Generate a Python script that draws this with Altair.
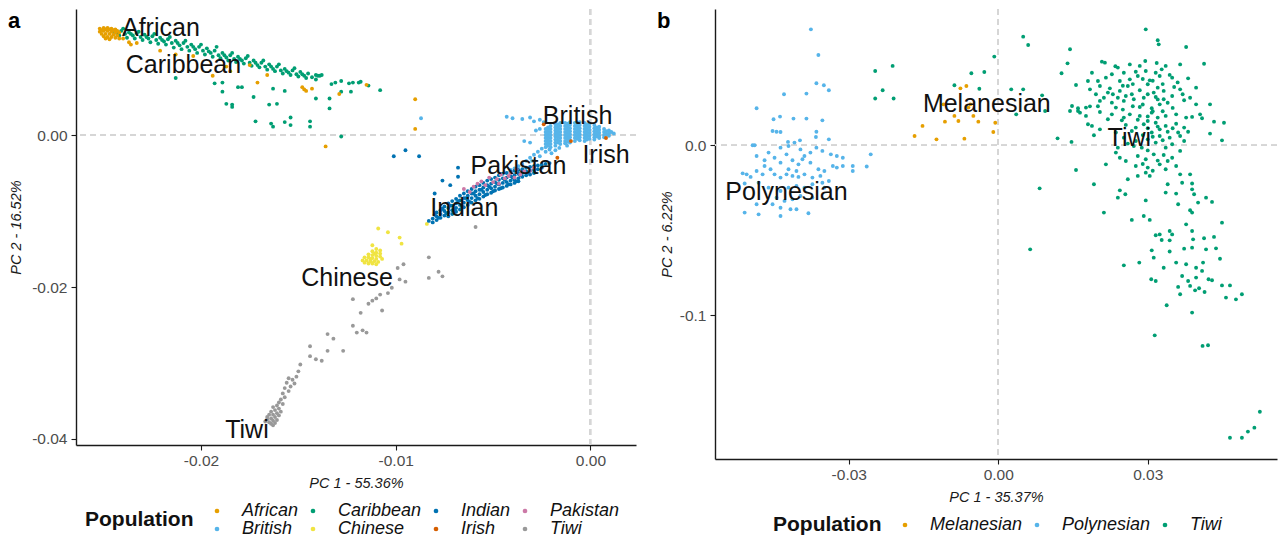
import altair as alt
import pandas as pd

FONT = "Liberation Sans"

# ---------------- Panel a data (PC1, PC2) ----------------
AFRICAN = [
    (-0.0252, 0.0140), (-0.0250, 0.0141), (-0.0248, 0.0141), (-0.0246, 0.0140), (-0.0244, 0.0139),
    (-0.0252, 0.0136), (-0.0250, 0.0137), (-0.0248, 0.0137), (-0.0246, 0.0136), (-0.0244, 0.0135),
    (-0.0242, 0.0135), (-0.0251, 0.0133), (-0.0249, 0.0133), (-0.0247, 0.0133), (-0.0245, 0.0132),
    (-0.0243, 0.0131), (-0.0250, 0.0130), (-0.0248, 0.0129), (-0.0246, 0.0129), (-0.0244, 0.0128),
    (-0.0242, 0.0127), (-0.0249, 0.0127), (-0.0247, 0.0126), (-0.0251, 0.0138), (-0.0249, 0.0139),
    (-0.0245, 0.0138), (-0.0247, 0.0139), (-0.0243, 0.0137), (-0.0240, 0.0127), (-0.0237, 0.0122),
    (-0.0236, 0.0119), (-0.0233, 0.0121), (-0.0221, 0.0111), (-0.0213, 0.0106), (-0.0204, 0.0104),
    (-0.0194, 0.0078), (-0.0185, 0.0084), (-0.0171, 0.0069), (-0.0166, 0.0079), (-0.0148, 0.0063),
    (-0.0147, 0.0060), (-0.0146, 0.0058), (-0.0143, 0.0061), (-0.0129, 0.0054), (-0.0115, 0.0066),
    (-0.0090, 0.0047), (-0.0090, 0.0008), (-0.0136, -0.0015), (-0.0187, 0.0090), (-0.0175, 0.0092),
]
CARIBBEAN = [
    (-0.0245, 0.0137), (-0.0243, 0.0134), (-0.0241, 0.0137), (-0.0239, 0.0133), (-0.0237, 0.0135),
    (-0.0235, 0.0131), (-0.0233, 0.0134), (-0.0231, 0.0129), (-0.0229, 0.0132), (-0.0227, 0.0127),
    (-0.0225, 0.0130), (-0.0223, 0.0125), (-0.0221, 0.0128), (-0.0219, 0.0123), (-0.0217, 0.0126),
    (-0.0215, 0.0121), (-0.0213, 0.0124), (-0.0211, 0.0118), (-0.0209, 0.0121), (-0.0207, 0.0116),
    (-0.0205, 0.0119), (-0.0203, 0.0113), (-0.0201, 0.0116), (-0.0199, 0.0111), (-0.0197, 0.0114),
    (-0.0195, 0.0108), (-0.0193, 0.0111), (-0.0191, 0.0105), (-0.0189, 0.0108), (-0.0187, 0.0102),
    (-0.0185, 0.0105), (-0.0183, 0.0100), (-0.0181, 0.0103), (-0.0179, 0.0098), (-0.0177, 0.0101),
    (-0.0175, 0.0095), (-0.0173, 0.0098), (-0.0171, 0.0092), (-0.0169, 0.0095), (-0.0167, 0.0090),
    (-0.0165, 0.0093), (-0.0163, 0.0087), (-0.0161, 0.0090), (-0.0159, 0.0085), (-0.0157, 0.0087),
    (-0.0155, 0.0082), (-0.0153, 0.0085), (-0.0151, 0.0080), (-0.0149, 0.0083), (-0.0147, 0.0078),
    (-0.0145, 0.0081), (-0.0143, 0.0076), (-0.0141, 0.0079), (-0.0139, 0.0078),
    (-0.0242, 0.0131), (-0.0238, 0.0128), (-0.0234, 0.0127), (-0.0230, 0.0125), (-0.0226, 0.0122),
    (-0.0222, 0.0120), (-0.0218, 0.0119), (-0.0214, 0.0115), (-0.0210, 0.0113), (-0.0206, 0.0111),
    (-0.0202, 0.0108), (-0.0198, 0.0106), (-0.0194, 0.0103), (-0.0190, 0.0101), (-0.0186, 0.0098),
    (-0.0182, 0.0096), (-0.0178, 0.0094), (-0.0174, 0.0091), (-0.0170, 0.0089), (-0.0166, 0.0086),
    (-0.0162, 0.0084), (-0.0158, 0.0081), (-0.0154, 0.0079), (-0.0150, 0.0077), (-0.0146, 0.0075),
    (-0.0240, 0.0140), (-0.0232, 0.0136), (-0.0224, 0.0133), (-0.0216, 0.0129), (-0.0208, 0.0124),
    (-0.0200, 0.0119), (-0.0192, 0.0116), (-0.0184, 0.0108), (-0.0176, 0.0104), (-0.0168, 0.0098),
    (-0.0160, 0.0093), (-0.0152, 0.0088),
    (-0.0244, 0.0135), (-0.0236, 0.0133), (-0.0228, 0.0129), (-0.0220, 0.0125), (-0.0212, 0.0121),
    (-0.0204, 0.0116), (-0.0196, 0.0110), (-0.0188, 0.0105), (-0.0180, 0.0100), (-0.0172, 0.0095),
    (-0.0164, 0.0090), (-0.0156, 0.0084), (-0.0148, 0.0080),
    (-0.0213, 0.0075), (-0.0193, 0.0068), (-0.0189, 0.0069), (-0.0189, 0.0057), (-0.0181, 0.0063),
    (-0.0179, 0.0063), (-0.0173, 0.0050), (-0.0187, 0.0041), (-0.0184, 0.0040), (-0.0184, 0.0037),
    (-0.0172, 0.0018), (-0.0165, 0.0040), (-0.0161, 0.0041), (-0.0163, 0.0061), (-0.0157, 0.0058),
    (-0.0164, 0.0015), (-0.0163, 0.0011), (-0.0157, 0.0017), (-0.0154, 0.0023), (-0.0154, 0.0013),
    (-0.0144, 0.0018), (-0.0144, 0.0011), (-0.0141, 0.0048), (-0.0134, 0.0048), (-0.0134, 0.0035),
    (-0.0131, 0.0069), (-0.0128, 0.0071), (-0.0128, 0.0057), (-0.0124, 0.0068), (-0.0122, 0.0069),
    (-0.0119, 0.0069), (-0.0118, 0.0070), (-0.0114, 0.0065), (-0.0123, 0.0057), (-0.0133, 0.0067),
    (-0.0108, 0.0059), (-0.0128, -0.0002), (-0.0140, 0.0078), (-0.0138, 0.0079), (-0.0141, 0.0073),
]
BRITISH = [
    (-0.0023, 0.0008), (-0.0023, 0.0004), (-0.0023, 0.0000), (-0.0023, -0.0004), (-0.0023, -0.0008),
    (-0.0023, -0.0012), (-0.0023, -0.0016), (-0.00205, 0.0012), (-0.00205, 0.0008), (-0.00205, 0.0004),
    (-0.00205, 0.0000), (-0.00205, -0.0004), (-0.00205, -0.0008), (-0.00205, -0.0012), (-0.00205, -0.0016),
    (-0.0018, 0.0014), (-0.0018, 0.0010), (-0.0018, 0.0006), (-0.0018, 0.0002), (-0.0018, -0.0002),
    (-0.0018, -0.0006), (-0.0018, -0.0010), (-0.0018, -0.0014), (-0.00155, 0.0016), (-0.00155, 0.0012),
    (-0.00155, 0.0008), (-0.00155, 0.0004), (-0.00155, 0.0000), (-0.00155, -0.0004), (-0.00155, -0.0008),
    (-0.00155, -0.0012), (-0.0013, 0.0016), (-0.0013, 0.0012), (-0.0013, 0.0008), (-0.0013, 0.0004),
    (-0.0013, 0.0000), (-0.0013, -0.0004), (-0.0013, -0.0008), (-0.0013, -0.0011), (-0.00105, 0.0017),
    (-0.00105, 0.0013), (-0.00105, 0.0009), (-0.00105, 0.0005), (-0.00105, 0.0001), (-0.00105, -0.0003),
    (-0.00105, -0.0007), (-0.00105, -0.0010), (-0.0008, 0.0016), (-0.0008, 0.0012), (-0.0008, 0.0008),
    (-0.0008, 0.0004), (-0.0008, 0.0000), (-0.0008, -0.0004), (-0.0008, -0.0008), (-0.00055, 0.0017),
    (-0.00055, 0.0013), (-0.00055, 0.0009), (-0.00055, 0.0005), (-0.00055, 0.0001), (-0.00055, -0.0003),
    (-0.00055, -0.0007), (-0.0003, 0.0016), (-0.0003, 0.0012), (-0.0003, 0.0008), (-0.0003, 0.0004),
    (-0.0003, 0.0000), (-0.0003, -0.0004), (-0.0003, -0.0008), (-0.00005, 0.0015), (-0.00005, 0.0011),
    (-0.00005, 0.0007), (-0.00005, 0.0003), (-0.00005, -0.0001), (-0.00005, -0.0005), (0.0002, 0.0013),
    (0.0002, 0.0009), (0.0002, 0.0005), (0.0002, 0.0001), (0.0002, -0.0003), (0.0002, -0.0006),
    (0.00045, 0.0011), (0.00045, 0.0007), (0.00045, 0.0003), (0.00045, -0.0001), (0.00045, -0.0004),
    (0.0007, 0.0008), (0.0007, 0.0004), (0.0007, 0.0000), (0.0007, -0.0003), (0.00095, 0.0006),
    (0.00095, 0.0002), (0.00095, -0.0001), (0.0012, 0.0002),
    (-0.00218, 0.0010), (-0.00218, 0.0006), (-0.00218, 0.0002), (-0.00218, -0.0002), (-0.00218, -0.0006),
    (-0.00218, -0.0010), (-0.00218, -0.0014), (-0.00168, 0.0014), (-0.00168, 0.0010), (-0.00168, 0.0006),
    (-0.00168, 0.0002), (-0.00168, -0.0002), (-0.00168, -0.0006), (-0.00168, -0.0010), (-0.00118, 0.0015),
    (-0.00118, 0.0011), (-0.00118, 0.0007), (-0.00118, 0.0003), (-0.00118, -0.0001), (-0.00118, -0.0005),
    (-0.00118, -0.0009), (-0.00068, 0.0015), (-0.00068, 0.0011), (-0.00068, 0.0007), (-0.00068, 0.0003),
    (-0.00068, -0.0001), (-0.00068, -0.0005), (-0.00018, 0.0014), (-0.00018, 0.0010), (-0.00018, 0.0006),
    (-0.00018, 0.0002), (-0.00018, -0.0002), (-0.00018, -0.0006), (0.00032, 0.0010), (0.00032, 0.0006),
    (0.00032, 0.0002), (0.00032, -0.0002), (0.00082, 0.0005), (0.00082, 0.0001), (0.00107, 0.0004),
    (-0.0025, -0.0018), (-0.0027, -0.0022), (-0.0029, -0.0026), (-0.0031, -0.0030), (-0.0033, -0.0034),
    (-0.0035, -0.0038), (-0.0037, -0.0041), (-0.0039, -0.0044), (-0.0041, -0.0046), (-0.0023, -0.0022),
    (-0.0026, -0.0028), (-0.0030, -0.0034), (-0.0020, -0.0024), (-0.0018, -0.0020), (-0.0021, -0.0019),
    (-0.0043, 0.0024), (-0.0040, 0.0022), (-0.0035, 0.0021), (-0.0031, 0.0023), (-0.0029, 0.0018),
    (-0.0028, 0.0006), (-0.0026, 0.0008), (-0.0034, -0.0008), (-0.0031, -0.0010), (-0.0087, 0.0022),
    (-0.0026, 0.0020), (-0.0024, 0.0017), (-0.0016, -0.0017), (-0.0012, -0.0014),
]
INDIAN = [
    (-0.0083, -0.0113), (-0.0081, -0.0110), (-0.0081, -0.0115), (-0.0079, -0.0102), (-0.0079, -0.0107),
    (-0.0079, -0.0112), (-0.0077, -0.0099), (-0.0077, -0.0104), (-0.0077, -0.0109), (-0.0075, -0.0094),
    (-0.0075, -0.0100), (-0.0075, -0.0106), (-0.0073, -0.0090), (-0.0073, -0.0096), (-0.0073, -0.0102),
    (-0.0073, -0.0107), (-0.0071, -0.0087), (-0.0071, -0.0093), (-0.0071, -0.0099), (-0.0071, -0.0104),
    (-0.0069, -0.0084), (-0.0069, -0.0090), (-0.0069, -0.0096), (-0.0069, -0.0101), (-0.0067, -0.0080),
    (-0.0067, -0.0086), (-0.0067, -0.0092), (-0.0067, -0.0098), (-0.0065, -0.0077), (-0.0065, -0.0083),
    (-0.0065, -0.0089), (-0.0065, -0.0095), (-0.0063, -0.0074), (-0.0063, -0.0080), (-0.0063, -0.0086),
    (-0.0063, -0.0092), (-0.0061, -0.0071), (-0.0061, -0.0077), (-0.0061, -0.0083), (-0.0061, -0.0089),
    (-0.0059, -0.0068), (-0.0059, -0.0074), (-0.0059, -0.0080), (-0.0059, -0.0086), (-0.0057, -0.0066),
    (-0.0057, -0.0072), (-0.0057, -0.0078), (-0.0057, -0.0084), (-0.0055, -0.0063), (-0.0055, -0.0069),
    (-0.0055, -0.0075), (-0.0055, -0.0081), (-0.0053, -0.0060), (-0.0053, -0.0066), (-0.0053, -0.0072),
    (-0.0053, -0.0078), (-0.0051, -0.0058), (-0.0051, -0.0064), (-0.0051, -0.0070), (-0.0051, -0.0076),
    (-0.0049, -0.0056), (-0.0049, -0.0062), (-0.0049, -0.0068), (-0.0049, -0.0073), (-0.0047, -0.0053),
    (-0.0047, -0.0059), (-0.0047, -0.0065), (-0.0047, -0.0071), (-0.0045, -0.0051), (-0.0045, -0.0057),
    (-0.0045, -0.0063), (-0.0045, -0.0069), (-0.0043, -0.0050), (-0.0043, -0.0056), (-0.0043, -0.0062),
    (-0.0043, -0.0067), (-0.0041, -0.0048), (-0.0041, -0.0054), (-0.0041, -0.0060), (-0.0041, -0.0065),
    (-0.0039, -0.0047), (-0.0039, -0.0053), (-0.0039, -0.0059), (-0.0039, -0.0063), (-0.0037, -0.0046),
    (-0.0037, -0.0051), (-0.0037, -0.0057), (-0.0037, -0.0061), (-0.0035, -0.0045), (-0.0035, -0.0050),
    (-0.0035, -0.0055), (-0.0033, -0.0043), (-0.0033, -0.0048), (-0.0033, -0.0053), (-0.0031, -0.0042),
    (-0.0031, -0.0047), (-0.0031, -0.0052), (-0.0029, -0.0041), (-0.0029, -0.0046), (-0.0029, -0.0050),
    (-0.0027, -0.0040), (-0.0027, -0.0045), (-0.0025, -0.0039), (-0.0025, -0.0043), (-0.0023, -0.0038),
    (-0.0021, -0.0037),
    (-0.0080, -0.0105), (-0.0076, -0.0097), (-0.0072, -0.0093), (-0.0068, -0.0087), (-0.0064, -0.0083),
    (-0.0060, -0.0077), (-0.0056, -0.0072), (-0.0052, -0.0068), (-0.0048, -0.0064), (-0.0044, -0.0059),
    (-0.0040, -0.0056), (-0.0036, -0.0053), (-0.0032, -0.0049), (-0.0078, -0.0109), (-0.0074, -0.0103),
    (-0.0070, -0.0098), (-0.0066, -0.0094), (-0.0062, -0.0088), (-0.0058, -0.0083), (-0.0054, -0.0079),
    (-0.0050, -0.0074), (-0.0046, -0.0070), (-0.0042, -0.0065), (-0.0038, -0.0061),
    (-0.0101, -0.0028), (-0.0095, -0.0020), (-0.0088, -0.0028), (-0.0068, -0.0043), (-0.0068, -0.0055),
    (-0.0076, -0.0060), (-0.0080, -0.0077), (-0.0072, -0.0066),
]
PAKISTAN = [
    (-0.0065, -0.0071), (-0.0060, -0.0068), (-0.0056, -0.0061), (-0.0052, -0.0056), (-0.0050, -0.0062),
    (-0.0046, -0.0052), (-0.0044, -0.0057), (-0.0041, -0.0050), (-0.0038, -0.0045), (-0.0036, -0.0052),
    (-0.0034, -0.0048), (-0.0054, -0.0066), (-0.0048, -0.0058), (-0.0042, -0.0054), (-0.0058, -0.0064),
    (-0.0047, -0.0064), (-0.0039, -0.0056), (-0.0062, -0.0075), (-0.0031, -0.0047), (-0.0029, -0.0043),
]
CHINESE = [
    (-0.0110, -0.0150), (-0.0108, -0.0152), (-0.0112, -0.0153), (-0.0110, -0.0155), (-0.0108, -0.0156),
    (-0.0114, -0.0157), (-0.0112, -0.0158), (-0.0110, -0.0159), (-0.0108, -0.0160), (-0.0116, -0.0161),
    (-0.0114, -0.0161), (-0.0112, -0.0162), (-0.0110, -0.0163), (-0.0107, -0.0163), (-0.0117, -0.0165),
    (-0.0115, -0.0165), (-0.0113, -0.0166), (-0.0111, -0.0166), (-0.0109, -0.0167), (-0.0116, -0.0168),
    (-0.0114, -0.0169), (-0.0112, -0.0169), (-0.0110, -0.0170), (-0.0113, -0.0163), (-0.0111, -0.0156),
    (-0.0109, -0.0123), (-0.0104, -0.0128), (-0.0098, -0.0135), (-0.0097, -0.0143), (-0.0112, -0.0145),
    (-0.0084, -0.0117),
]
IRISH = [(-0.0024, 0.0014), (-0.0010, -0.0008), (-0.0017, -0.0030), (0.0008, -0.0004)]
TIWI_A = [
    (-0.0059, -0.0121), (-0.0083, -0.0161), (-0.0083, -0.0188), (-0.0078, -0.0180), (-0.0076, -0.0186),
    (-0.0096, -0.0170), (-0.0099, -0.0175), (-0.0095, -0.0193), (-0.0098, -0.0190), (-0.0102, -0.0201),
    (-0.0104, -0.0208), (-0.0108, -0.0210), (-0.0110, -0.0215), (-0.0112, -0.0218), (-0.0114, -0.0222),
    (-0.0122, -0.0216), (-0.0107, -0.0231), (-0.0118, -0.0234), (-0.0122, -0.0251), (-0.0120, -0.0260),
    (-0.0115, -0.0260), (-0.0117, -0.0257), (-0.0135, -0.0262), (-0.0132, -0.0268), (-0.0127, -0.0284),
    (-0.0135, -0.0284), (-0.0144, -0.0278), (-0.0144, -0.0291), (-0.0141, -0.0295), (-0.0138, -0.0297),
    (-0.0149, -0.0302), (-0.0150, -0.0311),
    (-0.0151, -0.0318), (-0.0153, -0.0322), (-0.0155, -0.0320), (-0.0152, -0.0327), (-0.0156, -0.0326),
    (-0.0154, -0.0331), (-0.0157, -0.0333), (-0.0155, -0.0337), (-0.0158, -0.0340), (-0.0157, -0.0345),
    (-0.0159, -0.0348), (-0.0160, -0.0352), (-0.0158, -0.0354), (-0.0161, -0.0356), (-0.0163, -0.0358),
    (-0.0160, -0.0360), (-0.0162, -0.0362), (-0.0164, -0.0364), (-0.0161, -0.0366), (-0.0163, -0.0368),
    (-0.0165, -0.0368), (-0.0162, -0.0371), (-0.0164, -0.0373), (-0.0166, -0.0374), (-0.0163, -0.0376),
    (-0.0165, -0.0378), (-0.0161, -0.0375), (-0.0164, -0.0380), (-0.0162, -0.0379), (-0.0166, -0.0371),
    (-0.0160, -0.0369), (-0.0159, -0.0364), (-0.0167, -0.0377), (-0.0163, -0.0382),
]
LABELS_A = ["African", "Caribbean", "British", "Irish", "Pakistan", "Indian", "Chinese", "Tiwi"]
LABEL_X_A = [-0.02206, -0.02090, -0.00066, 0.00080, -0.00370, -0.00648, -0.01250, -0.01764]
LABEL_Y_A = [0.01303, 0.00816, 0.00141, -0.00364, -0.00517, -0.01066, -0.01987, -0.03983]

# ---------------- Panel b data ----------------
MELANESIAN = [
    (-0.0168, 0.0055), (-0.0152, 0.0114), (-0.0124, 0.0035), (-0.0107, 0.0139), (-0.0088, 0.0173),
    (-0.0080, 0.0143), (-0.0076, 0.0335), (-0.0064, 0.0349), (-0.0068, 0.0039), (-0.0060, 0.0222),
    (-0.0050, 0.0173), (-0.0040, 0.0139), (-0.0010, 0.0078), (-0.0006, 0.0133), (-0.0110, 0.0241),
    (-0.0056, 0.0241),
]
POLYNESIAN = [
    (-0.0376, 0.0682), (-0.0361, 0.0531), (-0.0365, 0.0365), (-0.0350, 0.0353), (-0.0340, 0.0324),
    (-0.0430, 0.0300), (-0.0385, 0.0304), (-0.0485, 0.0218), (-0.0438, 0.0169), (-0.0451, 0.0153),
    (-0.0411, 0.0157), (-0.0385, 0.0157), (-0.0353, 0.0147), (-0.0453, 0.0084), (-0.0445, 0.0080),
    (-0.0437, 0.0078), (-0.0365, 0.0080), (-0.0366, 0.0049), (-0.0340, 0.0035), (-0.0422, 0.0020),
    (-0.0409, 0.0016), (-0.0398, 0.0029), (-0.0493, 0.0000), (-0.0489, 0.0000), (-0.0421, -0.0004),
    (-0.0437, -0.0014), (-0.0365, -0.0014), (-0.0353, -0.0033), (-0.0336, -0.0053), (-0.0324, -0.0063),
    (-0.0312, -0.0073), (-0.0256, -0.0053), (-0.0292, -0.0122), (-0.0264, -0.0125), (-0.0292, -0.0151),
    (-0.0461, -0.0043), (-0.0389, -0.0063), (-0.0393, -0.0082), (-0.0485, -0.0063), (-0.0413, -0.0088),
    (-0.0437, -0.0102), (-0.0401, -0.0112), (-0.0377, -0.0102), (-0.0469, -0.0122), (-0.0457, -0.0141),
    (-0.0421, -0.0141), (-0.0361, -0.0141), (-0.0349, -0.0151), (-0.0332, -0.0122), (-0.0513, -0.0165),
    (-0.0505, -0.0171), (-0.0497, -0.0186), (-0.0485, -0.0151), (-0.0473, -0.0171), (-0.0449, -0.0171),
    (-0.0437, -0.0190), (-0.0425, -0.0171), (-0.0413, -0.0180), (-0.0401, -0.0186), (-0.0389, -0.0171),
    (-0.0373, -0.0190), (-0.0357, -0.0180), (-0.0340, -0.0210), (-0.0509, -0.0225), (-0.0481, -0.0220),
    (-0.0461, -0.0249), (-0.0437, -0.0269), (-0.0421, -0.0249), (-0.0405, -0.0239), (-0.0389, -0.0249),
    (-0.0373, -0.0229), (-0.0353, -0.0220), (-0.0445, -0.0308), (-0.0429, -0.0327), (-0.0413, -0.0318),
    (-0.0397, -0.0298), (-0.0373, -0.0308), (-0.0485, -0.0347), (-0.0453, -0.0347), (-0.0437, -0.0367),
    (-0.0417, -0.0376), (-0.0405, -0.0376), (-0.0509, -0.0396), (-0.0481, -0.0406), (-0.0437, -0.0416),
    (-0.0381, -0.0400), (-0.0349, -0.0249), (-0.0324, -0.0131), (-0.0312, -0.0122), (-0.0377, -0.0043),
    (-0.0397, -0.0024), (-0.0469, -0.0088), (-0.0449, -0.0073), (-0.0425, -0.0053), (-0.0405, -0.0151),
]
TIWI_B = [
    (-0.0247, 0.0437), (-0.0212, 0.0467), (-0.0232, 0.0324), (-0.0247, 0.0275), (-0.0210, 0.0275),
    (-0.0088, 0.0353), (-0.0054, 0.0424), (-0.0028, 0.0431), (-0.0038, 0.0333), (-0.0008, 0.0522),
    (0.0026, 0.0329), (0.0050, 0.0329), (0.0050, 0.0639), (0.0060, 0.0590), (0.0036, 0.0182),
    (0.0088, 0.0294), (0.0094, 0.0202), (0.0119, 0.0041), (0.0147, 0.0020), (0.0127, 0.0424),
    (0.0139, 0.0482), (0.0144, 0.0565), (0.0156, 0.0355), (0.0156, -0.0145), (0.0083, -0.0253),
    (0.0064, -0.0612), (0.0212, -0.0396), (0.0192, -0.0229), (0.0160, 0.0202),
    (0.0296, 0.0682), (0.0320, 0.0618), (0.0322, 0.0594), (0.0377, 0.0578), (0.0413, 0.0480),
    (0.0365, 0.0476),
    (0.0208, 0.0492), (0.0214, 0.0486), (0.0235, 0.0465), (0.0240, 0.0457), (0.0264, 0.0476),
    (0.0284, 0.0467), (0.0295, 0.0496), (0.0318, 0.0484), (0.0336, 0.0467),
    (0.0188, 0.0427), (0.0228, 0.0418), (0.0252, 0.0427), (0.0276, 0.0433), (0.0296, 0.0437),
    (0.0316, 0.0427), (0.0328, 0.0447), (0.0349, 0.0398), (0.0200, 0.0378), (0.0216, 0.0398),
    (0.0244, 0.0378), (0.0264, 0.0388), (0.0280, 0.0408), (0.0304, 0.0382), (0.0324, 0.0408),
    (0.0344, 0.0414), (0.0381, 0.0394), (0.0180, 0.0378),
    (0.0184, 0.0329), (0.0204, 0.0349), (0.0224, 0.0335), (0.0244, 0.0320), (0.0260, 0.0349),
    (0.0284, 0.0324), (0.0300, 0.0359), (0.0320, 0.0339), (0.0332, 0.0320), (0.0353, 0.0343),
    (0.0365, 0.0329), (0.0397, 0.0339), (0.0312, 0.0310), (0.0268, 0.0300), (0.0212, 0.0280),
    (0.0196, 0.0300),
    (0.0204, 0.0261), (0.0228, 0.0251), (0.0252, 0.0261), (0.0272, 0.0271), (0.0292, 0.0280),
    (0.0316, 0.0284), (0.0332, 0.0271), (0.0349, 0.0290), (0.0373, 0.0265), (0.0385, 0.0280),
    (0.0397, 0.0241), (0.0425, 0.0241), (0.0148, 0.0231), (0.0160, 0.0218), (0.0176, 0.0222),
    (0.0184, 0.0229), (0.0236, 0.0222), (0.0284, 0.0225), (0.0308, 0.0218), (0.0324, 0.0241),
    (0.0144, 0.0202), (0.0164, 0.0192), (0.0176, 0.0173), (0.0204, 0.0196), (0.0228, 0.0182),
    (0.0252, 0.0163), (0.0264, 0.0182), (0.0284, 0.0173), (0.0308, 0.0192), (0.0320, 0.0163),
    (0.0336, 0.0173), (0.0357, 0.0182), (0.0377, 0.0163), (0.0389, 0.0167), (0.0405, 0.0182),
    (0.0409, 0.0159), (0.0220, 0.0153), (0.0248, 0.0147), (0.0300, 0.0143),
    (0.0180, 0.0124), (0.0188, 0.0114), (0.0204, 0.0094), (0.0256, 0.0120), (0.0276, 0.0104),
    (0.0292, 0.0124), (0.0316, 0.0133), (0.0336, 0.0114), (0.0357, 0.0127), (0.0373, 0.0104),
    (0.0381, 0.0080), (0.0361, 0.0075), (0.0324, 0.0094), (0.0308, 0.0075), (0.0268, 0.0084),
    (0.0236, 0.0075), (0.0433, 0.0139), (0.0453, 0.0133), (0.0425, 0.0069), (0.0192, 0.0059),
    (0.0252, 0.0045), (0.0276, 0.0025), (0.0300, 0.0035), (0.0324, 0.0055), (0.0344, 0.0045),
    (0.0365, 0.0055), (0.0373, 0.0025), (0.0349, 0.0006), (0.0316, 0.0016), (0.0288, -0.0014),
    (0.0272, -0.0004), (0.0240, -0.0014), (0.0236, -0.0043), (0.0336, -0.0014), (0.0365, -0.0033),
    (0.0449, 0.0029),
    (0.0244, -0.0073), (0.0256, -0.0092), (0.0280, -0.0063), (0.0296, -0.0082), (0.0312, -0.0053),
    (0.0332, -0.0057), (0.0349, -0.0073), (0.0276, -0.0122), (0.0300, -0.0131), (0.0324, -0.0112),
    (0.0340, -0.0092), (0.0357, -0.0122), (0.0216, -0.0112), (0.0385, -0.0171), (0.0336, -0.0141),
    (0.0296, -0.0161), (0.0280, -0.0180), (0.0260, -0.0200), (0.0304, -0.0180), (0.0365, -0.0171),
    (0.0369, -0.0220), (0.0389, -0.0225),
    (0.0244, -0.0265), (0.0255, -0.0288), (0.0240, -0.0308), (0.0268, -0.0439), (0.0296, -0.0324),
    (0.0292, -0.0416), (0.0304, -0.0439), (0.0340, -0.0229), (0.0336, -0.0278), (0.0357, -0.0284),
    (0.0361, -0.0347), (0.0389, -0.0259), (0.0393, -0.0288), (0.0401, -0.0337), (0.0417, -0.0308),
    (0.0429, -0.0333), (0.0449, -0.0455), (0.0385, -0.0382), (0.0389, -0.0396), (0.0377, -0.0465),
    (0.0316, -0.0529), (0.0324, -0.0524), (0.0344, -0.0504), (0.0349, -0.0524), (0.0328, -0.0557),
    (0.0344, -0.0559), (0.0308, -0.0618), (0.0344, -0.0625), (0.0389, -0.0504), (0.0391, -0.0553),
    (0.0413, -0.0547), (0.0433, -0.0539), (0.0373, -0.0608), (0.0389, -0.0602), (0.0417, -0.0612),
    (0.0437, -0.0606), (0.0445, -0.0667), (0.0252, -0.0706), (0.0283, -0.0690), (0.0312, -0.0661),
    (0.0332, -0.0720), (0.0357, -0.0690), (0.0377, -0.0700), (0.0397, -0.0720), (0.0411, -0.0690),
    (0.0307, -0.0788), (0.0316, -0.0798), (0.0369, -0.0769), (0.0381, -0.0798), (0.0397, -0.0778),
    (0.0422, -0.0788), (0.0429, -0.0794), (0.0361, -0.0833), (0.0385, -0.0827), (0.0395, -0.0853),
    (0.0403, -0.0841), (0.0414, -0.0863), (0.0449, -0.0824), (0.0465, -0.0824), (0.0457, -0.0896),
    (0.0477, -0.0906), (0.0489, -0.0876), (0.0365, -0.0876), (0.0409, -0.0739), (0.0338, -0.0941),
    (0.0389, -0.0984), (0.0314, -0.1118), (0.0410, -0.1180), (0.0421, -0.1176),
    (0.0465, -0.1720), (0.0489, -0.1720), (0.0501, -0.1684), (0.0514, -0.1661), (0.0525, -0.1567),
    (0.0230, 0.0300), (0.0256, 0.0290), (0.0300, 0.0300), (0.0320, 0.0270), (0.0340, 0.0250),
    (0.0290, 0.0240), (0.0270, 0.0230), (0.0250, 0.0210), (0.0310, 0.0200), (0.0330, 0.0200),
    (0.0350, 0.0220), (0.0300, 0.0170), (0.0280, 0.0150), (0.0320, 0.0110), (0.0300, 0.0100),
    (0.0290, 0.0060), (0.0340, 0.0080), (0.0350, 0.0100), (0.0310, 0.0050), (0.0330, 0.0030),
    (0.0260, 0.0010), (0.0300, -0.0030), (0.0320, -0.0090), (0.0290, -0.0110), (0.0310, -0.0150),
    (0.0330, 0.0360), (0.0310, 0.0380), (0.0290, 0.0390), (0.0270, 0.0360), (0.0250, 0.0350),
    (0.0360, 0.0370), (0.0370, 0.0300), (0.0240, 0.0280), (0.0220, 0.0310), (0.0200, 0.0230),
]
LABELS_B = ["Polynesian", "Melanesian", "Tiwi"]
LABEL_X_B = [-0.0425, -0.0023, 0.0263]
LABEL_Y_B = [-0.0324, 0.0196, -0.0004]

POPS_A = ["African", "Caribbean", "Indian", "Pakistan", "British", "Chinese", "Irish", "Tiwi"]
COLORS_A = ["#E69F00", "#009E73", "#0072B2", "#CC79A7", "#56B4E9", "#F0E442", "#D55E00", "#999999"]
POPS_B = ["Melanesian", "Polynesian", "Tiwi"]
COLORS_B = ["#E69F00", "#56B4E9", "#009E73"]


def points_frame(groups):
    rows = []
    for pop, pts in groups:
        for x, y in pts:
            rows.append({"pc1": x, "pc2": y, "pop": pop})
    return pd.DataFrame(rows)


df_a = points_frame([
    ("Caribbean", CARIBBEAN), ("African", AFRICAN), ("Tiwi", TIWI_A), ("Chinese", CHINESE),
    ("British", BRITISH), ("Indian", INDIAN), ("Pakistan", PAKISTAN), ("Irish", IRISH),
])
df_b = points_frame([("Polynesian", POLYNESIAN), ("Melanesian", MELANESIAN), ("Tiwi", TIWI_B)])
lab_a = pd.DataFrame({"pc1": LABEL_X_A, "pc2": LABEL_Y_A, "label": LABELS_A})
lab_b = pd.DataFrame({"pc1": LABEL_X_B, "pc2": LABEL_Y_B, "label": LABELS_B})

MINUS_FIX = "replace(format(datum.value, '{f}'), '\u2212', '-')"

AXIS_STYLE = dict(
    grid=False, domainColor="#1a1a1a", domainWidth=1.4, tickColor="#1a1a1a", tickWidth=1.1, tickSize=5,
    labelFont=FONT, labelFontSize=15.5, labelColor="#4d4d4d",
    titleFont=FONT, titleFontSize=14.5, titleFontStyle="italic", titleFontWeight="normal", titleColor="#1a1a1a",
)


def panel(df, labels, pops, colors, xdom, ydom, xvals, yvals, xfmt, yfmt, w, h,
          xtitle, ytitle, ytitle_x, letter, letter_x, legend_x, legend_y, columns):
    xscale = alt.Scale(domain=xdom, nice=False, zero=False)
    yscale = alt.Scale(domain=ydom, nice=False, zero=False)
    xaxis = alt.Axis(values=xvals, labelExpr=MINUS_FIX.format(f=xfmt), title=xtitle,
                     labelPadding=3, titlePadding=8, **AXIS_STYLE)
    yaxis = alt.Axis(values=yvals, labelExpr=MINUS_FIX.format(f=yfmt), title=ytitle,
                     labelPadding=4, titleX=ytitle_x, **AXIS_STYLE)
    vrule = alt.Chart(df).mark_rule(color="#D6D6D6", strokeDash=[6, 4], strokeWidth=1.2).encode(
        x=alt.datum(0, scale=xscale, axis=xaxis)
    )
    hrule = alt.Chart(df).mark_rule(color="#D6D6D6", strokeDash=[6, 4], strokeWidth=1.2).encode(
        y=alt.datum(0, scale=yscale, axis=yaxis)
    )
    pts = alt.Chart(df).mark_circle(size=15, opacity=1).encode(
        x=alt.X("pc1:Q", scale=xscale, axis=xaxis, title=xtitle),
        y=alt.Y("pc2:Q", scale=yscale, axis=yaxis, title=ytitle),
        color=alt.Color(
            "pop:N",
            scale=alt.Scale(domain=pops, range=colors),
            title="Population",
            legend=alt.Legend(
                orient="none", legendX=legend_x, legendY=legend_y, direction="horizontal",
                columns=columns, titleOrient="left", titleAnchor="middle", titleBaseline="middle",
                titlePadding=14, columnPadding=5, rowPadding=0, labelOffset=16,
                symbolType="circle", symbolSize=22, symbolStrokeWidth=0, padding=0,
                labelFont=FONT, labelFontSize=18, labelFontStyle="italic", labelColor="#111111",
                titleFont=FONT, titleFontSize=21, titleFontWeight="bold", titleColor="#111111",
            ),
        ),
    )
    txt = alt.Chart(labels).mark_text(
        font=FONT, fontSize=25, color="#111111", align="center", baseline="alphabetic"
    ).encode(
        x=alt.X("pc1:Q", scale=xscale, title=xtitle),
        y=alt.Y("pc2:Q", scale=yscale, title=ytitle),
        text="label:N",
    )
    tag = alt.Chart(pd.DataFrame({"t": [letter]})).mark_text(
        font=FONT, fontSize=22, fontWeight="bold", color="#000000", align="left", baseline="top"
    ).encode(x=alt.value(letter_x), y=alt.value(2), text="t:N")
    return alt.layer(vrule, hrule, pts, txt, tag).properties(width=w, height=h)


pa = panel(df_a, lab_a, POPS_A, COLORS_A,
           [-0.02642, 0.00234], [-0.04079, 0.01658],
           [-0.02, -0.01, 0.0], [-0.04, -0.02, 0.0], ".2f", ".2f", 560, 436,
           "PC 1 - 55.36%", "PC 2 - 16.52%", -53, "a", -68, 9, 493, 4)
pb = panel(df_b, lab_b, POPS_B, COLORS_B,
           [-0.05685, 0.05594], [-0.18453, 0.08018],
           [-0.03, 0.0, 0.03], [-0.1, 0.0], ".2f", ".1f", 562, 450,
           "PC 1 - 35.37%", "PC 2 - 6.22%", -41, "b", -58, 58, 507, 3)

chart = alt.hconcat(pa, pb, spacing=20, padding=0).resolve_scale(color="independent").configure_view(
    stroke=None
).configure_axis(**AXIS_STYLE).configure_legend(
    labelFont=FONT, labelFontSize=18, labelFontStyle="italic", labelColor="#111111",
    titleFont=FONT, titleFontSize=21, titleFontWeight="bold", titleColor="#111111",
)

chart.save("out.html", embed_options={"renderer": "svg", "actions": False})
